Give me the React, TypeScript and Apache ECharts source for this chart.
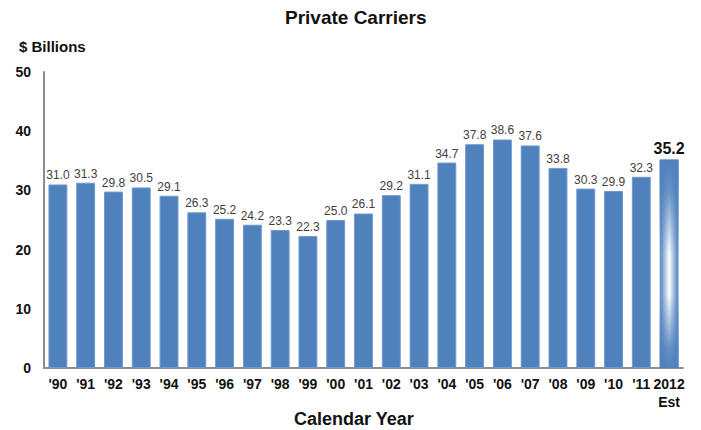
import React, { useEffect, useRef } from "react";
import * as echarts from "echarts";

const categories = ["'90", "'91", "'92", "'93", "'94", "'95", "'96", "'97", "'98", "'99", "'00", "'01", "'02", "'03", "'04", "'05", "'06", "'07", "'08", "'09", "'10", "'11", "2012\nEst"];
const values = [31.0, 31.3, 29.8, 30.5, 29.1, 26.3, 25.2, 24.2, 23.3, 22.3, 25.0, 26.1, 29.2, 31.1, 34.7, 37.8, 38.6, 37.6, 33.8, 30.3, 29.9, 32.3, 35.2];
const yTicks = [0, 10, 20, 30, 40, 50];

const FONT = "'Liberation Sans', Arial, sans-serif";
const BLUE = "#4F81BD";

export default function App() {
  const ref = useRef<HTMLDivElement>(null);
  useEffect(() => {
    if (!ref.current) return;
    const chart = echarts.init(ref.current, null, { renderer: "svg" });
    const last = values.length - 1;
    const data = values.map((v, i) =>
      i === last
        ? {
            value: v,
            itemStyle: {
              color: {
                type: "linear",
                x: 0,
                y: 0,
                x2: 1,
                y2: 0,
                colorStops: [
                  { offset: 0, color: BLUE },
                  { offset: 0.5, color: "#ffffff" },
                  { offset: 1, color: BLUE },
                ],
              },
            },
            label: { fontSize: 16, fontWeight: "bold", color: "#111" },
          }
        : v
    );
    // overlay on the estimate bar: vertical fade that keeps top/bottom blue
    const overlay = values.map((v, i) => (i === last ? v : null));
    chart.setOption({
      animation: false,
      textStyle: { fontFamily: FONT },
      title: [
        {
          text: "Private Carriers",
          left: 280,
          top: 3,
          textStyle: { fontFamily: FONT, fontSize: 19, fontWeight: "bold", color: "#111" },
        },
        {
          text: "$ Billions",
          left: 14,
          top: 34,
          textStyle: { fontFamily: FONT, fontSize: 15, fontWeight: "bold", color: "#111" },
        },
        {
          text: "Calendar Year",
          left: 289,
          top: 405,
          textStyle: { fontFamily: FONT, fontSize: 18, fontWeight: "bold", color: "#111" },
        },
      ],
      grid: { left: 44, right: 18, top: 72, bottom: 62, containLabel: false },
      xAxis: {
        type: "category",
        data: categories,
        axisLine: { show: true, lineStyle: { color: "#8c8c8c", width: 2 } },
        axisTick: { show: false },
        axisLabel: {
          interval: 0,
          margin: 7,
          fontFamily: FONT,
          fontSize: 14,
          fontWeight: "bold",
          color: "#111",
          lineHeight: 18,
        },
      },
      yAxis: {
        type: "value",
        min: yTicks[0],
        max: yTicks[yTicks.length - 1],
        interval: 10,
        splitLine: { show: false },
        axisTick: { show: false },
        axisLine: { show: true, lineStyle: { color: "#8c8c8c", width: 2 } },
        axisLabel: {
          margin: 13,
          fontFamily: FONT,
          fontSize: 14,
          fontWeight: "bold",
          color: "#111",
        },
      },
      series: [
        {
          type: "bar",
          data,
          barCategoryGap: "32%",
          barGap: "-100%",
          itemStyle: { color: BLUE, borderColor: "#6f98cc", borderWidth: 1 },
          label: {
            show: true,
            position: "top",
            distance: 3,
            fontFamily: FONT,
            fontSize: 12,
            color: "#404040",
            formatter: (p: any) => Number(p.value).toFixed(1),
          },
          z: 2,
        },
        {
          type: "bar",
          data: overlay,
          barCategoryGap: "32%",
          barGap: "-100%",
          silent: true,
          itemStyle: {
            color: {
              type: "linear",
              x: 0,
              y: 0,
              x2: 0,
              y2: 1,
              colorStops: [
                { offset: 0, color: "rgba(79,129,189,1)" },
                { offset: 0.15, color: "rgba(79,129,189,0.85)" },
                { offset: 0.45, color: "rgba(79,129,189,0)" },
                { offset: 0.65, color: "rgba(79,129,189,0)" },
                { offset: 0.9, color: "rgba(79,129,189,0.85)" },
                { offset: 1, color: "rgba(79,129,189,1)" },
              ],
            },
          },
          label: { show: false },
          z: 3,
        },
      ],
    });
    return () => chart.dispose();
  }, []);
  return <div ref={ref} style={{ position: "fixed", left: 0, top: 0, width: 701, height: 430, background: "#fff" }} />;
}
